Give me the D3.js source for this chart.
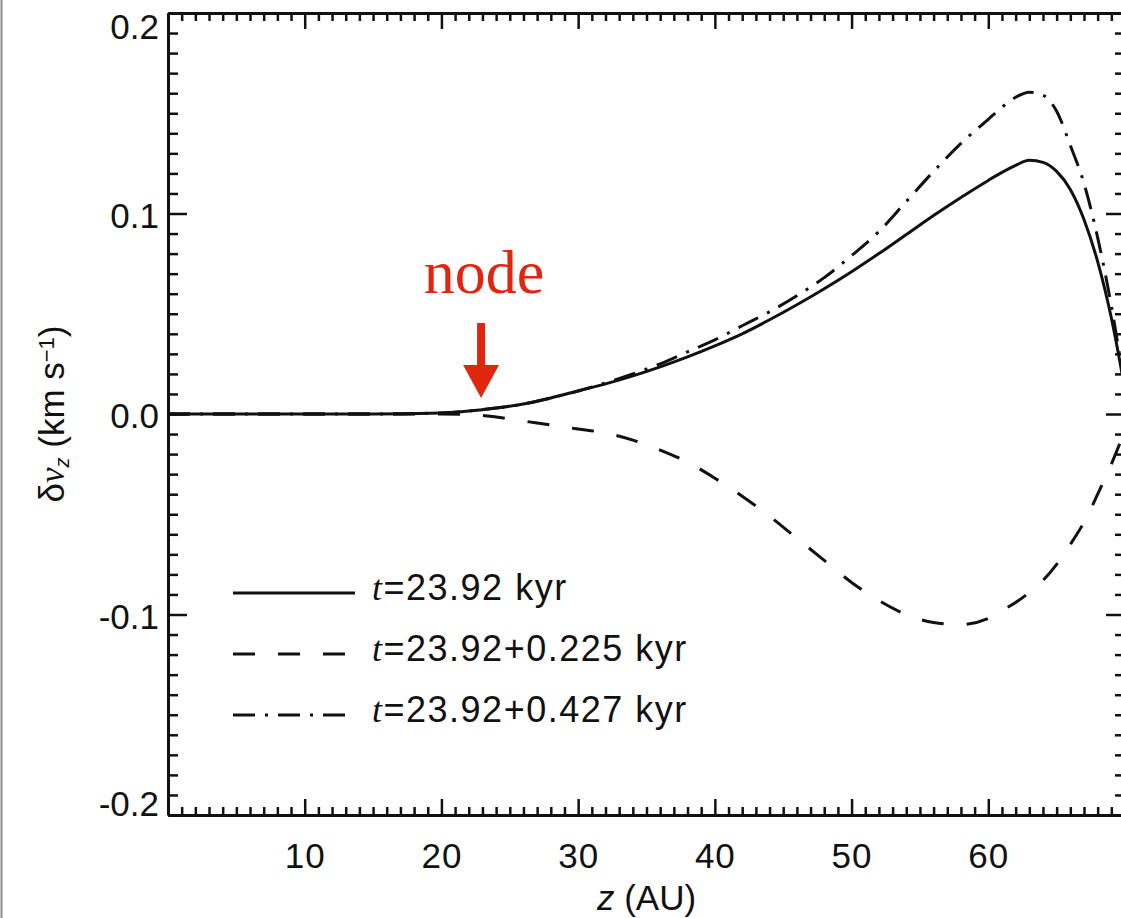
<!DOCTYPE html>
<html>
<head>
<meta charset="utf-8">
<script src="https://cdn.jsdelivr.net/npm/d3@7"></script>
<style>
  html, body { margin: 0; padding: 0; background: #fff; }
  svg { display: block; }
</style>
</head>
<body>
<svg id="chart"></svg>
<script>
// values
const zValues = [0, 5, 10, 15, 20, 22, 24, 26, 28, 30, 32, 34, 36, 38, 40, 42, 44, 46, 48, 50,
                 52, 54, 56, 58, 60, 61, 62, 63, 64, 65, 66, 67, 68, 69, 70];
const solidValues = [0, 0, 0, 0, 0.0005, 0.0015, 0.003, 0.005, 0.008, 0.0115, 0.015, 0.019, 0.0235, 0.0285,
                     0.034, 0.040, 0.047, 0.0545, 0.0625, 0.071, 0.080, 0.0895, 0.099, 0.108, 0.1165, 0.1205,
                     0.124, 0.1265, 0.1255, 0.121, 0.112, 0.097, 0.076, 0.048, 0.012];
const dashedValues = [0, 0, 0, 0, 0, -0.0002, -0.0015, -0.0035, -0.0055, -0.0075, -0.0095, -0.013, -0.018,
                      -0.024, -0.032, -0.041, -0.051, -0.062, -0.073, -0.084, -0.093, -0.100, -0.104, -0.105,
                      -0.102, -0.098, -0.094, -0.089, -0.083, -0.075, -0.065, -0.054, -0.040, -0.025, -0.008];
const dashDotValues = [0, 0, 0, 0, 0.0005, 0.0015, 0.003, 0.005, 0.008, 0.0115, 0.0155, 0.020, 0.025, 0.031,
                       0.037, 0.044, 0.051, 0.059, 0.068, 0.079, 0.091, 0.106, 0.121, 0.135, 0.147, 0.153,
                       0.158, 0.1605, 0.159, 0.151, 0.134, 0.115, 0.088, 0.054, 0.012];
const legendLabels = ["23.92 kyr", "23.92+0.225 kyr", "23.92+0.427 kyr"];
const xMajorTicks = [0, 10, 20, 30, 40, 50, 60, 70];
const xLabelTicks = [10, 20, 30, 40, 50, 60];
const yMajorTicks = [-0.2, -0.1, 0.0, 0.1, 0.2];
const nodeZ = 22.9;

const width = 1121, height = 918;
const marginLeft = 168, marginTop = 13, plotRight = 1125, plotBottom = 815;

const svg = d3.select("#chart")
    .attr("width", width)
    .attr("height", height)
    .attr("viewBox", [0, 0, width, height])
    .style("font-family", "'Liberation Sans', Arial, Helvetica, sans-serif");

svg.append("rect").attr("width", width).attr("height", height).attr("fill", "#fff");
// grey page frame at the left edge
svg.append("line")
    .attr("x1", 1.5).attr("x2", 1.5).attr("y1", 0).attr("y2", height)
    .attr("stroke", "#8a8a8a").attr("stroke-width", 2);

const x = d3.scaleLinear([0, 70], [marginLeft, plotRight]);
const y = d3.scaleLinear([-0.2, 0.2], [plotBottom, marginTop]);

const xMinor = d3.range(0, 71).filter(d => d % 10 !== 0);
const yMinor = d3.range(-20, 21).filter(d => d % 10 !== 0).map(d => d / 100);

svg.append("defs").append("clipPath").attr("id", "plotClip")
  .append("rect")
    .attr("x", marginLeft).attr("y", marginTop)
    .attr("width", plotRight - marginLeft).attr("height", plotBottom - marginTop);

// curves
const series = [
  { values: solidValues, dash: null },
  { values: dashedValues, dash: "22,23" },
  { values: dashDotValues, dash: "22,10,3,10" }
];
const line = d3.line()
    .x((d, i) => x(zValues[i]))
    .y(d => y(d))
    .curve(d3.curveMonotoneX);

svg.append("g")
    .attr("clip-path", "url(#plotClip)")
  .selectAll("path")
  .data(series)
  .join("path")
    .attr("d", d => line(d.values))
    .attr("fill", "none")
    .attr("stroke", "#111")
    .attr("stroke-width", 3)
    .attr("stroke-dasharray", d => d.dash);

// axes (IDL style: ticks inside on all four sides)
const axisStyle = g => {
  g.selectAll(".tick line").attr("stroke", "#111").attr("stroke-width", 2.5);
  g.select(".domain").attr("stroke", "#111").attr("stroke-width", 3);
};
const noDomain = g => g.select(".domain").remove();

svg.append("g")
    .attr("transform", `translate(0,${plotBottom})`)
    .call(d3.axisBottom(x).tickValues(xMinor).tickSizeInner(-8).tickSizeOuter(0).tickFormat(""))
    .call(axisStyle).call(noDomain);
svg.append("g")
    .attr("transform", `translate(0,${marginTop})`)
    .call(d3.axisTop(x).tickValues(xMinor).tickSizeInner(-8).tickSizeOuter(0).tickFormat(""))
    .call(axisStyle).call(noDomain);
svg.append("g")
    .attr("transform", `translate(${marginLeft},0)`)
    .call(d3.axisLeft(y).tickValues(yMinor).tickSizeInner(-10).tickSizeOuter(0).tickFormat(""))
    .call(axisStyle).call(noDomain);
svg.append("g")
    .attr("transform", `translate(${plotRight},0)`)
    .call(d3.axisRight(y).tickValues(yMinor).tickSizeInner(-10).tickSizeOuter(0).tickFormat(""))
    .call(axisStyle).call(noDomain);

svg.append("g")
    .attr("transform", `translate(0,${plotBottom})`)
    .call(d3.axisBottom(x).tickValues(xMajorTicks).tickSizeInner(-16).tickSizeOuter(0).tickPadding(28)
        .tickFormat(d => xLabelTicks.includes(d) ? d : ""))
    .call(axisStyle)
    .call(g => g.selectAll("text").attr("fill", "#111").style("font-size", "35px").style("letter-spacing", "1px"));
svg.append("g")
    .attr("transform", `translate(0,${marginTop})`)
    .call(d3.axisTop(x).tickValues(xMajorTicks).tickSizeInner(-16).tickSizeOuter(0).tickFormat(""))
    .call(axisStyle);
svg.append("g")
    .attr("transform", `translate(${marginLeft},0)`)
    .call(d3.axisLeft(y).tickValues(yMajorTicks).tickSizeInner(-19).tickSizeOuter(0).tickPadding(9)
        .tickFormat(d => d.toFixed(1)))
    .call(axisStyle)
    .call(g => g.selectAll("text")
        .attr("fill", "#111")
        .style("font-size", "35px")
        .attr("dy", null)
        .attr("dominant-baseline", "central")
        // keep the end labels inside the frame
        .attr("y", d => Math.max(marginTop + 12, Math.min(plotBottom - 13, y(d))) - y(d) + 1));
svg.append("g")
    .attr("transform", `translate(${plotRight},0)`)
    .call(d3.axisRight(y).tickValues(yMajorTicks).tickSizeInner(-19).tickSizeOuter(0).tickFormat(""))
    .call(axisStyle);

// axis titles
const xTitle = svg.append("text")
    .attr("x", (marginLeft + plotRight) / 2)
    .attr("y", 910)
    .attr("text-anchor", "middle")
    .attr("fill", "#111")
    .style("font-size", "35px");
xTitle.append("tspan").style("font-style", "italic").text("z");
xTitle.append("tspan").text(" (AU)");

const yTitle = svg.append("text")
    .attr("transform", `translate(64,${(marginTop + plotBottom) / 2}) rotate(-90)`)
    .attr("text-anchor", "middle")
    .attr("fill", "#111")
    .style("font-size", "35px");
yTitle.append("tspan").text("δ");
yTitle.append("tspan").style("font-style", "italic").style("font-family", "'Liberation Serif', serif").text("v");
yTitle.append("tspan").attr("baseline-shift", "-25%").style("font-size", "20px").style("font-style", "italic").text("z");
yTitle.append("tspan").text(" (km s");
yTitle.append("tspan").attr("baseline-shift", "45%").style("font-size", "22px").text("−1");
yTitle.append("tspan").text(")");

// legend
const legend = svg.append("g").attr("transform", "translate(233,593)");
const rows = legend.selectAll("g")
  .data(series)
  .join("g")
    .attr("transform", (d, i) => `translate(0,${i * 61})`);
rows.append("line")
    .attr("x1", 0).attr("x2", 122)
    .attr("stroke", "#111")
    .attr("stroke-width", 3)
    .attr("stroke-dasharray", d => d.dash);
const legendText = rows.append("text")
    .attr("x", 139)
    .attr("y", 7)
    .attr("fill", "#111")
    .style("font-size", "36px")
    .style("letter-spacing", "1.5px");
legendText.append("tspan").style("font-style", "italic").style("font-family", "'Liberation Serif', serif").text("t");
legendText.append("tspan").text((d, i) => "=" + legendLabels[i]);

// "node" annotation
const red = "#e0260f";
const nx = x(nodeZ), tipY = y(0) - 16;
svg.append("text")
    .attr("x", nx + 3)
    .attr("y", tipY - 105)
    .attr("text-anchor", "middle")
    .attr("fill", red)
    .style("font-family", "'Liberation Serif', 'Times New Roman', serif")
    .style("font-size", "62px")
    .text("node");
svg.append("line")
    .attr("x1", nx).attr("x2", nx)
    .attr("y1", tipY - 75).attr("y2", tipY - 28)
    .attr("stroke", red).attr("stroke-width", 8);
svg.append("path")
    .attr("d", `M${nx - 18},${tipY - 33} L${nx + 18},${tipY - 33} L${nx},${tipY} Z`)
    .attr("fill", red);
</script>
</body>
</html>
